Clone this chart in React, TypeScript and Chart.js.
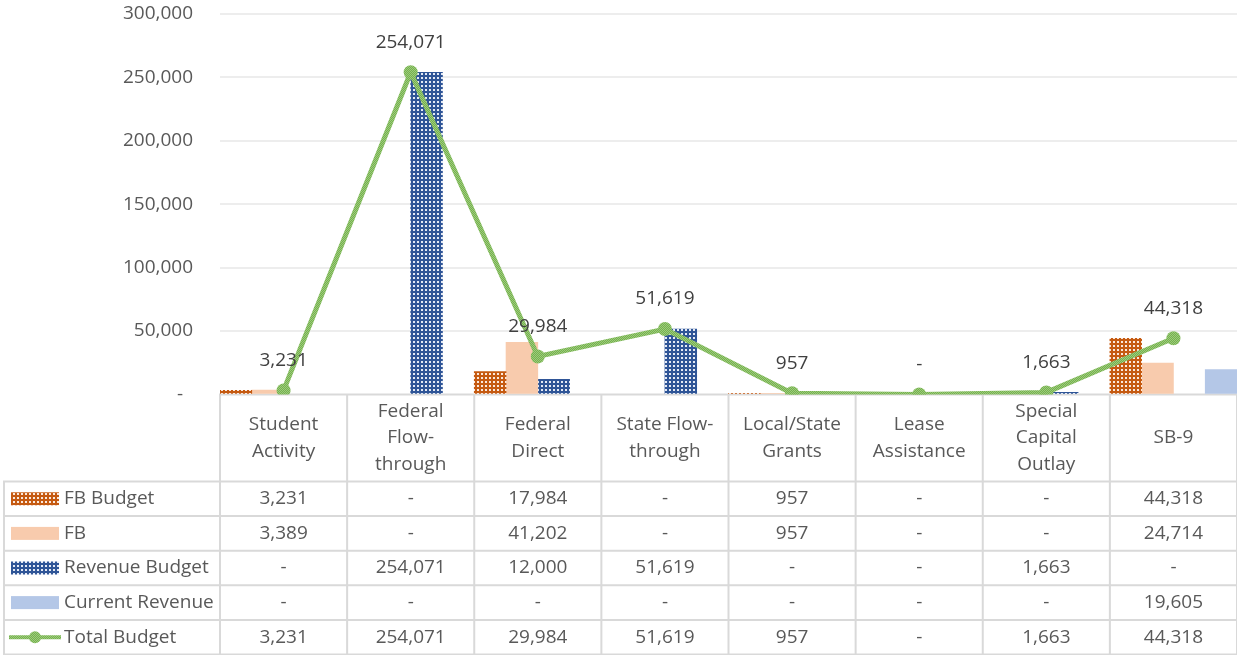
import React, { useEffect, useRef } from "react";
import { Chart, registerables } from "chart.js";

Chart.register(...registerables);

const categories: string[][] = [
  ["Student", "Activity"],
  ["Federal", "Flow-", "through"],
  ["Federal", "Direct"],
  ["State Flow-", "through"],
  ["Local/State", "Grants"],
  ["Lease", "Assistance"],
  ["Special", "Capital", "Outlay"],
  ["SB-9"],
];
const fbBudget = [3231, 0, 17984, 0, 957, 0, 0, 44318];
const fb = [3389, 0, 41202, 0, 957, 0, 0, 24714];
const revenueBudget = [0, 254071, 12000, 51619, 0, 0, 1663, 0];
const currentRevenue = [0, 0, 0, 0, 0, 0, 0, 19605];
const totalBudget = [3231, 254071, 29984, 51619, 957, 0, 1663, 44318];
const seriesNames = ["FB Budget", "FB", "Revenue Budget", "Current Revenue", "Total Budget"];
const yMax = 300000;
const yStep = 50000;

const FONT = '"Open Sans", "Noto Sans", sans-serif';
const fmt = (v: number) => (v === 0 ? "-" : v.toLocaleString("en-US"));
const barData = (arr: number[]) => arr.map((v) => (v === 0 ? null : v));

function makePattern(base: string, dot: string) {
  const c = document.createElement("canvas");
  c.width = 4;
  c.height = 4;
  const g = c.getContext("2d")!;
  g.fillStyle = base;
  g.fillRect(0, 0, 4, 4);
  g.fillStyle = dot;
  g.fillRect(1, 1, 2, 2);
  const ctx = document.createElement("canvas").getContext("2d")!;
  return ctx.createPattern(c, "repeat")!;
}

function makeGreen() {
  const c = document.createElement("canvas");
  c.width = 2;
  c.height = 2;
  const g = c.getContext("2d")!;
  g.fillStyle = "#76B14E";
  g.fillRect(0, 0, 2, 2);
  g.fillStyle = "#9CCB7C";
  g.fillRect(0, 0, 1, 1);
  g.fillRect(1, 1, 1, 1);
  const ctx = document.createElement("canvas").getContext("2d")!;
  return ctx.createPattern(c, "repeat")!;
}

export default function App() {
  const ref = useRef<HTMLCanvasElement | null>(null);

  useEffect(() => {
    if (!ref.current) return;
    const orangePat = makePattern("#C55A11", "#FBE8DC");
    const bluePat = makePattern("#2F5597", "#E4EAF5");
    const greenPat = makeGreen();
    const peach = "#F8CBAD";
    const lightBlue = "#B4C7E7";
    const keyFills: any[] = [orangePat, peach, bluePat, lightBlue];
    const rowsData = [fbBudget, fb, revenueBudget, currentRevenue, totalBudget];
    const headerH = 87;
    const rowH = 34.6;

    const gridPlugin = {
      id: "tableGrid",
      beforeDatasetsDraw(chart: any) {
        const { ctx, chartArea } = chart;
        const left = chartArea.left;
        const right = chartArea.right;
        const n = categories.length;
        const w = (right - left) / n;
        const top = chartArea.bottom;
        const tableLeft = 4;
        const bottom = top + headerH + rowH * 5;
        ctx.save();
        ctx.strokeStyle = "#D9D9D9";
        ctx.lineWidth = 2;
        ctx.beginPath();
        ctx.moveTo(left - 1, top);
        ctx.lineTo(right + 2, top);
        for (let r = 0; r <= 5; r++) {
          const y = top + headerH + r * rowH;
          ctx.moveTo(tableLeft - 1, y);
          ctx.lineTo(right + 2, y);
        }
        for (let i = 0; i <= n; i++) {
          const x = left + i * w;
          ctx.moveTo(x, top);
          ctx.lineTo(x, bottom);
        }
        ctx.moveTo(tableLeft, top + headerH);
        ctx.lineTo(tableLeft, bottom);
        ctx.stroke();
        ctx.restore();
      },
      afterDraw(chart: any) {
        const { ctx, chartArea } = chart;
        const left = chartArea.left;
        const right = chartArea.right;
        const n = categories.length;
        const w = (right - left) / n;
        const top = chartArea.bottom;
        ctx.save();
        ctx.font = `19px ${FONT}`;
        ctx.fillStyle = "#595959";
        ctx.textAlign = "center";
        ctx.textBaseline = "middle";
        categories.forEach((lines, i) => {
          const cx = left + (i + 0.5) * w;
          const lh = 26.5;
          const cy = top + headerH / 2;
          lines.forEach((t, j) => {
            ctx.fillText(t, cx, cy + (j - (lines.length - 1) / 2) * lh);
          });
        });
        rowsData.forEach((arr, r) => {
          const cy = top + headerH + (r + 0.5) * rowH;
          arr.forEach((v, i) => {
            const cx = left + (i + 0.5) * w;
            ctx.fillText(fmt(v), cx, cy);
          });
          if (r < 4) {
            ctx.fillStyle = keyFills[r];
            ctx.fillRect(11, cy - 6.5, 48, 13);
          } else {
            ctx.strokeStyle = greenPat;
            ctx.lineWidth = 4;
            ctx.beginPath();
            ctx.moveTo(9, cy);
            ctx.lineTo(61, cy);
            ctx.stroke();
            ctx.fillStyle = greenPat;
            ctx.beginPath();
            ctx.arc(35, cy, 6, 0, Math.PI * 2);
            ctx.fill();
          }
          ctx.fillStyle = "#595959";
          ctx.textAlign = "left";
          ctx.fillText(seriesNames[r], 64, cy);
          ctx.textAlign = "center";
        });
        const meta = chart.getDatasetMeta(4);
        ctx.fillStyle = "#404040";
        meta.data.forEach((pt: any, i: number) => {
          ctx.fillText(fmt(totalBudget[i]), pt.x, pt.y - 30);
        });
        ctx.restore();
      },
    };

    const chart = new Chart(ref.current, {
      type: "bar",
      data: {
        labels: categories,
        datasets: [
          { type: "bar", label: seriesNames[0], data: barData(fbBudget), backgroundColor: orangePat as any, order: 1 },
          { type: "bar", label: seriesNames[1], data: barData(fb), backgroundColor: peach, order: 1 },
          { type: "bar", label: seriesNames[2], data: barData(revenueBudget), backgroundColor: bluePat as any, order: 1 },
          { type: "bar", label: seriesNames[3], data: barData(currentRevenue), backgroundColor: lightBlue, order: 1 },
          {
            type: "line",
            label: seriesNames[4],
            data: totalBudget,
            borderColor: greenPat as any,
            backgroundColor: greenPat as any,
            borderWidth: 5,
            pointRadius: 7,
            pointBorderWidth: 0,
            pointBackgroundColor: greenPat as any,
            tension: 0,
            order: 0,
          } as any,
        ],
      },
      options: {
        responsive: false,
        animation: false,
        datasets: {
          bar: { barPercentage: 1, categoryPercentage: 1 },
        },
        layout: { autoPadding: false, padding: { left: 0, right: 0, top: 14, bottom: 260.5 } },
        plugins: {
          legend: { display: false },
          tooltip: { enabled: false },
        },
        scales: {
          x: { display: false },
          y: {
            min: 0,
            max: yMax,
            afterFit: (s: any) => {
              s.width = 220;
              s.paddingTop = 0;
              s.paddingBottom = 0;
            },
            border: { display: false },
            grid: {
              drawTicks: false,
              lineWidth: 2,
              color: (c: any) => (c.tick && c.tick.value === 0 ? "rgba(0,0,0,0)" : "#EDEDED"),
            },
            ticks: {
              stepSize: yStep,
              padding: 27,
              color: "#595959",
              font: { family: FONT, size: 19 },
              callback: (v: any) => (Number(v) === 0 ? "-  " : Number(v).toLocaleString("en-US")),
            },
          },
        },
      } as any,
      plugins: [gridPlugin],
    });
    return () => chart.destroy();
  }, []);

  return (
    <div style={{ position: "fixed", left: 0, top: 0, width: 1237, height: 655, background: "#fff" }}>
      <canvas ref={ref} width={1237} height={655} style={{ width: 1237, height: 655, display: "block" }} />
    </div>
  );
}
